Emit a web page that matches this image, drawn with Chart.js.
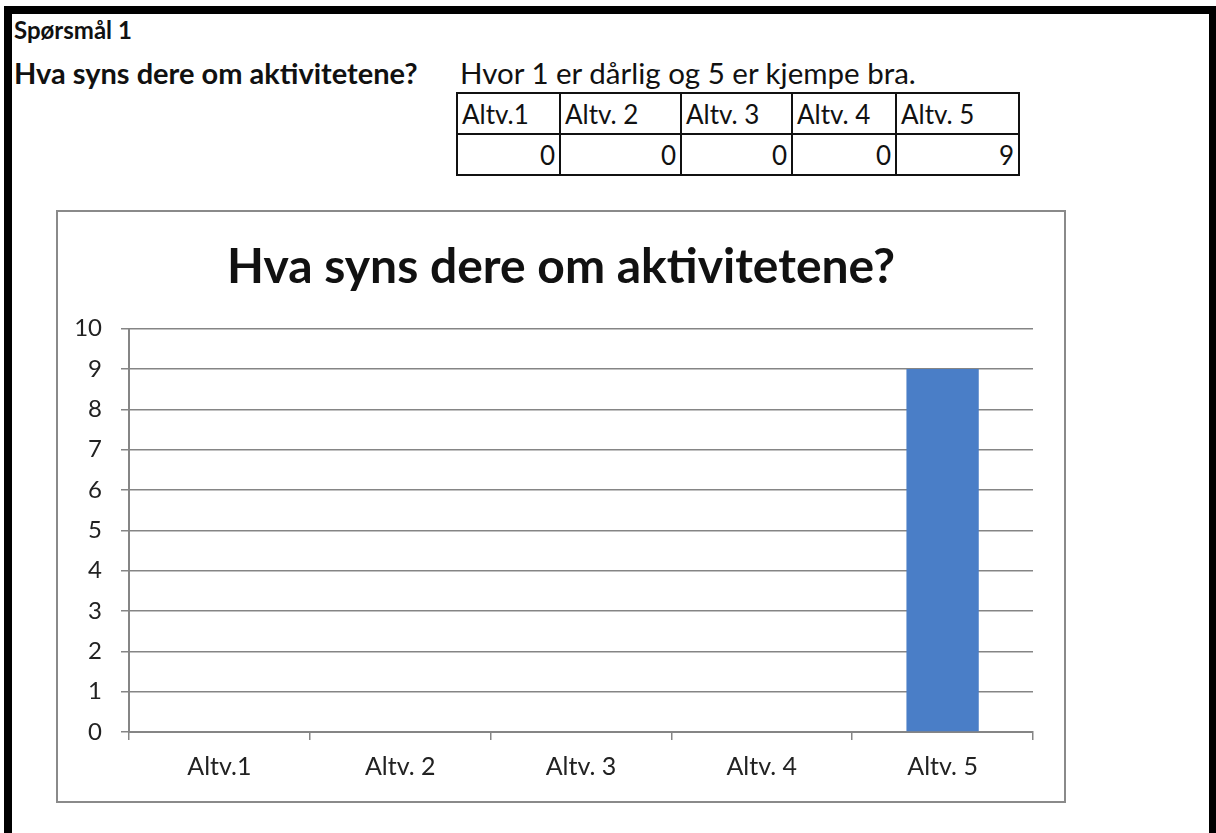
<!DOCTYPE html>
<html>
<head>
<meta charset="utf-8">
<script src="https://cdn.jsdelivr.net/npm/chart.js@4"></script>
<style>
  html, body { margin: 0; padding: 0; background: #fff; }
  body { width: 1216px; height: 833px; position: relative; overflow: hidden; font-family: Lato, "Open Sans", sans-serif; color: #111; }
  #frame { position: absolute; left: 4px; top: 6px; width: 1197px; height: 840px; border-left: 8px solid #000; border-top: 8px solid #000; border-right: 7px solid #000; }
  .t { position: absolute; white-space: nowrap; line-height: 1; }
  #q { left: 14px; top: 18px; font-weight: bold; font-size: 24px; }
  #q2 { left: 14px; top: 58px; font-weight: bold; font-size: 29px; }
  #note { left: 460px; top: 58px; font-size: 29.5px; }
  #tbl { position: absolute; left: 456px; top: 92px; border-collapse: collapse; font-size: 26px; table-layout: fixed; }
  #tbl td { border: 2px solid #111; padding: 0 4px; height: 39px; line-height: 1; overflow: hidden; white-space: nowrap; }
  #tbl tr.v td { text-align: right; border-top-width: 1px; }
  #tbl tr.h td { text-align: left; }
  #box { position: absolute; left: 56px; top: 210px; width: 1006px; height: 589px; border: 2px solid #8a8a8a; }
  #c { display: block; }
</style>
</head>
<body>
<div id="frame"></div>
<div class="t" id="q">Spørsmål 1</div>
<div class="t" id="q2">Hva syns dere om aktivitetene?</div>
<div class="t" id="note">Hvor 1 er dårlig og 5 er kjempe bra.</div>
<table id="tbl"></table>
<div id="box"><canvas id="c" width="1006" height="589"></canvas></div>
<script>
const categories = ["Altv.1", "Altv. 2", "Altv. 3", "Altv. 4", "Altv. 5"];
const values = [0, 0, 0, 0, 9];
const yTicks = [0, 1, 2, 3, 4, 5, 6, 7, 8, 9, 10];
const chartTitle = "Hva syns dere om aktivitetene?";
const colWidths = [103, 121, 111, 104, 123];

// table
const tbl = document.getElementById('tbl');
const hr = document.createElement('tr'); hr.className = 'h';
const vr = document.createElement('tr'); vr.className = 'v';
categories.forEach((c, i) => {
  const th = document.createElement('td'); th.textContent = c; th.style.width = (colWidths[i] - 10) + 'px'; hr.appendChild(th);
  const td = document.createElement('td'); td.textContent = values[i]; vr.appendChild(td);
});
tbl.appendChild(hr); tbl.appendChild(vr);

const gridCol = '#858585';
const fam = 'Lato, "Open Sans", sans-serif';
new Chart(document.getElementById('c'), {
  type: 'bar',
  data: {
    labels: categories,
    datasets: [{
      data: values,
      yAxisID: 'y',
      backgroundColor: '#4a7ec7',
      borderWidth: 0,
      barPercentage: 0.4,
      categoryPercentage: 1.0
    }]
  },
  options: {
    responsive: false,
    animation: false,
    layout: { padding: 0 },
    plugins: {
      legend: { display: false },
      tooltip: { enabled: false },
      title: {
        display: true,
        text: chartTitle,
        color: '#111',
        font: { family: fam, size: 48, weight: 'bold', lineHeight: 1.2 },
        padding: { top: 27, bottom: 32 }
      }
    },
    scales: {
      x: {
        grid: { offset: true, drawOnChartArea: false, drawTicks: true, tickLength: 8, color: gridCol, lineWidth: 1.5 },
        border: { display: true, color: gridCol, width: 2 },
        ticks: { color: '#222', font: { family: fam, size: 25 }, padding: 12 },
        afterFit: (s) => { s.height = 69; }
      },
      y: {
        min: 0, max: 10,
        afterBuildTicks: (s) => { s.ticks = yTicks.map(v => ({ value: v })); },
        grid: { color: gridCol, lineWidth: 1.5, drawTicks: true, tickLength: 8 },
        border: { display: true, color: gridCol, width: 2 },
        ticks: { color: '#222', font: { family: fam, size: 24 }, padding: 19 },
        afterFit: (s) => { s.width = 71; }
      },
      spacer: {
        type: 'linear',
        position: 'right',
        min: 0, max: 10,
        grid: { display: false, drawOnChartArea: false },
        border: { display: false },
        ticks: { display: false },
        afterFit: (s) => { s.width = 31; }
      }
    }
  }
});
</script>
</body>
</html>
